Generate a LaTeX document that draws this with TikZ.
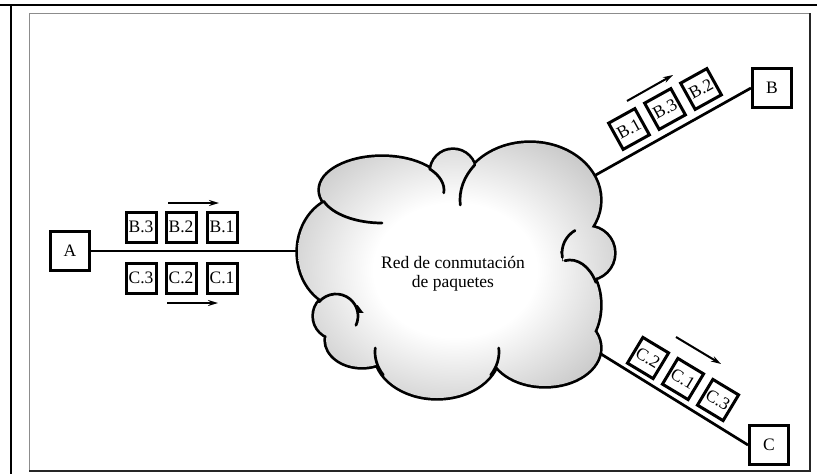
\documentclass[tikz,border=0pt]{standalone}
\usepackage{fontspec}
\setmainfont{Liberation Serif}
\usetikzlibrary{arrows.meta}

% lobes of the network cloud (centre, x radius, y radius)
\newcommand{\cloudlobes}{%
  (345,252) ellipse [x radius=47, y radius=55]
  (382,190) ellipse [x radius=62, y radius=33]
  (453,172) circle [radius=22]
  (530,200) ellipse [x radius=70, y radius=57]
  (588,253) circle [radius=26]
  (570,305) ellipse [x radius=30, y radius=45]
  (545,348) ellipse [x radius=55, y radius=38]
  (437,352) ellipse [x radius=62, y radius=46]
  (362,340) ellipse [x radius=36, y radius=27]
  (336,316) circle [radius=22]
  (455,270) ellipse [x radius=108, y radius=80]}

% white core fading to light grey towards the rim
\pgfdeclareradialshading{cloudshade}{\pgfpoint{0bp}{0bp}}{%
  color(0bp)=(white); color(12bp)=(white); color(30bp)=(black!25);
  color(42bp)=(black!33); color(50bp)=(black!33)}

\begin{document}
\begin{tikzpicture}[x=1pt, y=-1pt,
  txt/.style={font=\fontsize{17.5}{19}\selectfont},
  station/.style={draw, line width=3pt, minimum width=39pt, minimum height=39pt,
    inner sep=0pt, fill=white, txt},
  pkt/.style={draw, line width=3pt, minimum width=30pt, minimum height=30pt,
    inner sep=0pt, fill=white, txt},
  link/.style={line width=2.7pt},
  flow/.style={line width=2pt, -{Stealth[length=10pt, width=6pt]}},
  curl/.style={line width=2.7pt, line cap=round}]

\useasboundingbox (0,0) rectangle (817,474);
\fill[white] (0,0) rectangle (817,474);

% page frame
\draw[line width=1.3pt] (0,5) -- (817,5);
\draw[line width=1.3pt] (11,5) -- (11,474);
\draw[black!45, line width=1pt] (29,471) -- (29,13) -- (810,13);
\draw[black!85, line width=1.2pt] (29,471) -- (810,471) -- (810,13);

% end stations
\node[station] (A) at (70,251) {A};
\node[station] (B) at (772,88) {B};
\node[station] (C) at (769,445) {C};

% attachment points on the cloud
\coordinate (cloudW) at (330,251);
\coordinate (cloudNE) at (585,181);
\coordinate (cloudSE) at (580,341);

% links (their inner ends are hidden by the cloud)
\draw[link] (A.east) -- (cloudW);
\draw[link] (cloudNE) -- (B.west);
\draw[link] (cloudSE) -- (C.west);

% cloud outline: thick strokes of every lobe, then the shaded union on top
\draw[line width=5.4pt] \cloudlobes;
\begin{scope}
  \clip \cloudlobes;
  \shade[shading=cloudshade] (285,130) rectangle (625,410);
\end{scope}
% inner folds of the cloud
\draw[curl] (382,190) ++(160:62 and 33) arc[start angle=160, end angle=90, x radius=62, y radius=33];
\draw[curl] (382,190) ++(-40:62 and 33) arc[start angle=-40, end angle=5, x radius=62, y radius=33];
\draw[curl] (530,200) ++(175:70 and 57) arc[start angle=175, end angle=218, x radius=70, y radius=57];
\draw[curl] (588,253) ++(170:26) arc[start angle=170, end angle=240, radius=26];
\draw[curl] (570,305) ++(-100:30 and 45) arc[start angle=-100, end angle=-30, x radius=30, y radius=45];
\draw[curl] (437,352) ++(185:62 and 46) arc[start angle=185, end angle=150, x radius=62, y radius=46];
\draw[curl] (437,352) ++(-5:62 and 46) arc[start angle=-5, end angle=30, x radius=62, y radius=46];
\draw[curl] (336,316) ++(-140:22) arc[start angle=-140, end angle=25, radius=22];

\node[txt, align=center] (net) at (453,274) {Red de conmutación\\de paquetes};

% packets leaving A
\node[pkt] (b3) at (141,227) {B.3};
\node[pkt] (b2) at (181,227) {B.2};
\node[pkt] (b1) at (222,227) {B.1};
\node[pkt] (c3) at (141,278) {C.3};
\node[pkt] (c2) at (181,278) {C.2};
\node[pkt] (c1) at (222,278) {C.1};
\coordinate (fb0) at (168,203); \coordinate (fb1) at (219,203);
\coordinate (fc0) at (167,303); \coordinate (fc1) at (218,303);
\draw[flow] (fb0) -- (fb1);
\draw[flow] (fc0) -- (fc1);

% packets arriving at B
\node[pkt, rotate=29] (rb1) at (629,129) {B.1};
\node[pkt, rotate=29] (rb3) at (665,109) {B.3};
\node[pkt, rotate=29] (rb2) at (701,89) {B.2};
\coordinate (gb0) at (627,101); \coordinate (gb1) at (673,75);
\draw[flow] (gb0) -- (gb1);

% packets arriving at C
\node[pkt, rotate=-31] (rc2) at (648,358) {C.2};
\node[pkt, rotate=-31] (rc1) at (683,379) {C.1};
\node[pkt, rotate=-31] (rc3) at (718,400) {C.3};
\coordinate (gc0) at (676,337); \coordinate (gc1) at (721,364);
\draw[flow] (gc0) -- (gc1);
\end{tikzpicture}
\end{document}
